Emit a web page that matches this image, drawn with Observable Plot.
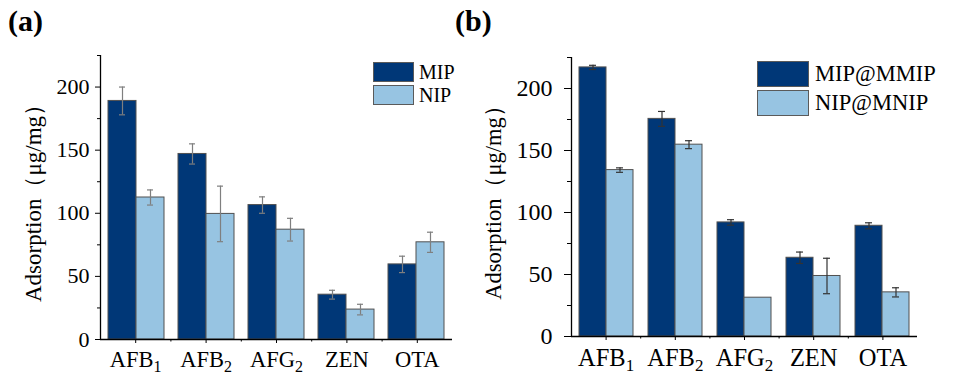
<!DOCTYPE html>
<html>
<head>
<meta charset="utf-8">
<script src="https://cdn.jsdelivr.net/npm/d3@7"></script>
<script src="https://cdn.jsdelivr.net/npm/@observablehq/plot@0.6"></script>
<style>
  html, body { margin: 0; padding: 0; background: white; }
  #root { position: relative; width: 955px; height: 381px; overflow: hidden; font-family: "Liberation Serif", serif; color: black; }
  .layer { position: absolute; top: 0; }
  .plabel { position: absolute; font-weight: bold; font-size: 30px; line-height: 1; }
  .legend { position: absolute; }
  .legend .item { display: flex; align-items: center; }
  .legend .box { box-sizing: border-box; border: 1.5px solid #5a5a5a; }
</style>
</head>
<body>
<div id="root"></div>
<script>
// ---------- data ----------
const categories = ["AFB1", "AFB2", "AFG2", "ZEN", "OTA"];
const tickLabels = ["AFB₁", "AFB₂", "AFG₂", "ZEN", "OTA"];

// panel (a)
const seriesA = ["MIP", "NIP"];
const aMIP    = [189, 147, 106.5, 35.5, 59.5];
const aMIPerr = [11, 8, 6.5, 3.5, 6.5];
const aNIP    = [112.5, 99.5, 87, 23.7, 77];
const aNIPerr = [6, 22, 9, 4.2, 8];

// panel (b)
const seriesB = ["MIP@MMIP", "NIP@MNIP"];
const bMIP    = [217, 175.5, 92, 63.5, 89.3];
const bMIPerr = [1.7, 6, 2.2, 4.6, 2.4];
const bNIP    = [134.2, 154.7, 31.3, 48.8, 35.6];
const bNIPerr = [1.8, 3.2, 0, 14.3, 3.7];

const yTicks = [0, 50, 100, 150, 200];
const yMinor = [25, 75, 125, 175, 225];
const yLabel = "Adsorption（μg/mg）";
const colors = ["#003777", "#97c4e2"];

// ---------- helpers ----------
function rowsFor(series, v1, e1, v2, e2) {
  const rows = [];
  categories.forEach((c, i) => {
    rows.push({cat: c, series: series[0], value: v1[i], err: e1[i]});
    rows.push({cat: c, series: series[1], value: v2[i], err: e2[i]});
  });
  return rows;
}

function subscriptify(svg, subSize) {
  svg.querySelectorAll('[aria-label="x-axis tick label"] text').forEach(t => {
    const s = t.textContent;
    const m = s.match(/^(.*?)([\u2080-\u2089])$/);
    if (!m) return;
    t.textContent = "";
    const ns = "http://www.w3.org/2000/svg";
    const a = document.createElementNS(ns, "tspan");
    a.textContent = m[1];
    const b = document.createElementNS(ns, "tspan");
    b.textContent = String(m[2].charCodeAt(0) - 0x2080);
    b.setAttribute("font-size", subSize);
    b.setAttribute("dy", "0.3em");
    t.appendChild(a); t.appendChild(b);
  });
}

function panel(cfg) {
  const {left, width, height, m, series, rows, fs, fsX, subSize, majorTick, minorTick, tickPad,
         xTickPad, labelOffset, errColor, capInset, ySize} = cfg;
  const common = {
    width, height,
    marginLeft: m.left, marginRight: m.right, marginTop: m.top, marginBottom: m.bottom,
    style: {fontFamily: "Liberation Serif, serif", color: "black", background: "transparent", overflow: "visible"}
  };

  // axes layer
  const axes = Plot.plot({
    ...common,
    x: {domain: [0, categories.length], axis: null},
    y: {domain: [0, 225], axis: null},
    marks: [
      Plot.axisY({ticks: yTicks, tickSize: majorTick, tickPadding: tickPad, fontSize: fs, label: null}),
      Plot.axisY({ticks: [], tickSize: 0, fontSize: ySize, label: yLabel, labelAnchor: "center",
                  labelOffset: labelOffset, labelArrow: "none"}),
      Plot.axisY({ticks: yMinor, tickSize: minorTick, text: null, label: null}),
      Plot.axisX({ticks: categories.map((c, i) => i + 0.5), tickFormat: v => tickLabels[Math.floor(v)],
                  tickSize: 4, tickPadding: xTickPad, fontSize: fsX, label: null}),
      Plot.axisX({ticks: categories.slice(1).map((c, i) => i + 1), tickSize: 2.5, text: null, label: null}),
      Plot.ruleX([0], {strokeWidth: 1.3}),
      Plot.ruleY([0], {strokeWidth: 1.3})
    ]
  });
  subscriptify(axes, subSize);
  axes.querySelectorAll("text").forEach(t => {
    if (t.textContent === yLabel) t.style.fontSize = ySize + "px";
  });

  // bars layer (grouped via fx facets)
  const withErr = rows.filter(d => d.err > 0);
  const bars = Plot.plot({
    ...common,
    fx: {domain: categories, paddingInner: 0.2, paddingOuter: 0.1, axis: null, label: null},
    x: {domain: series, padding: 0, axis: null},
    y: {domain: [0, 225], axis: null},
    color: {domain: series, range: colors},
    marks: [
      Plot.barY(rows, {fx: "cat", x: "series", y: "value", fill: "series", stroke: "#505050", strokeWidth: 1}),
      Plot.ruleX(withErr, {fx: "cat", x: "series", y1: d => d.value - d.err, y2: d => d.value + d.err,
                           stroke: errColor, strokeWidth: 1.2}),
      Plot.tickY(withErr, {fx: "cat", x: "series", y: d => d.value - d.err, stroke: errColor, strokeWidth: 1.2,
                           insetLeft: capInset, insetRight: capInset}),
      Plot.tickY(withErr, {fx: "cat", x: "series", y: d => d.value + d.err, stroke: errColor, strokeWidth: 1.2,
                           insetLeft: capInset, insetRight: capInset})
    ]
  });

  const wrap = document.createElement("div");
  wrap.className = "layer";
  wrap.style.left = left + "px";
  wrap.style.width = width + "px";
  wrap.style.height = height + "px";
  bars.style.position = "absolute"; bars.style.left = "0"; bars.style.top = "0";
  axes.style.position = "absolute"; axes.style.left = "0"; axes.style.top = "0";
  wrap.appendChild(bars);
  wrap.appendChild(axes);
  return wrap;
}

function legend(series, x, y, boxW, boxH, gap, textGap, fontSize) {
  const lg = document.createElement("div");
  lg.className = "legend";
  lg.style.left = x + "px";
  lg.style.top = y + "px";
  series.forEach((s, i) => {
    const it = document.createElement("div");
    it.className = "item";
    it.style.marginBottom = gap + "px";
    const b = document.createElement("div");
    b.className = "box";
    b.style.width = boxW + "px"; b.style.height = boxH + "px";
    b.style.background = colors[i];
    const t = document.createElement("span");
    t.textContent = s;
    t.style.fontSize = fontSize + "px";
    t.style.marginLeft = textGap + "px";
    t.style.lineHeight = "1";
    it.appendChild(b); it.appendChild(t);
    lg.appendChild(it);
  });
  return lg;
}

const root = document.getElementById("root");

root.appendChild(panel({
  left: 0, width: 480, height: 381,
  m: {left: 100, right: 28, top: 55, bottom: 42},
  series: seriesA, rows: rowsFor(seriesA, aMIP, aMIPerr, aNIP, aNIPerr),
  fs: 22, fsX: 22.5, subSize: 16, majorTick: 5, minorTick: 3, tickPad: 6, xTickPad: 8,
  labelOffset: 76, errColor: "#7f7f7f", capInset: 11, ySize: 23
}));

root.appendChild(panel({
  left: 480, width: 475, height: 381,
  m: {left: 91, right: 38, top: 57, bottom: 45},
  series: seriesB, rows: rowsFor(seriesB, bMIP, bMIPerr, bNIP, bNIPerr),
  fs: 24, fsX: 24.5, subSize: 17, majorTick: 7, minorTick: 4, tickPad: 12, xTickPad: 8,
  labelOffset: 86, errColor: "#333333", capInset: 10, ySize: 22.5
}));

root.appendChild(legend(seriesA, 373, 62, 41, 20, 3, 5, 20));
root.appendChild(legend(seriesB, 757, 61, 52, 26, 3, 6, 22.5));

const la = document.createElement("div");
la.className = "plabel"; la.textContent = "(a)"; la.style.left = "8px"; la.style.top = "6px";
root.appendChild(la);
const lb = document.createElement("div");
lb.className = "plabel"; lb.textContent = "(b)"; lb.style.left = "455px"; lb.style.top = "6px";
root.appendChild(lb);
</script>
</body>
</html>
